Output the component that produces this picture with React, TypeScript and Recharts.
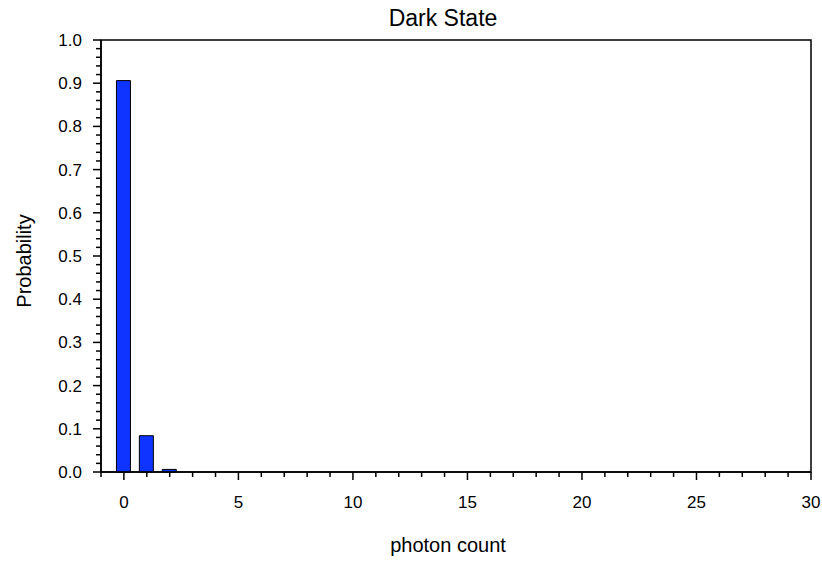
import { Bar, BarChart, ReferenceArea, XAxis, YAxis } from "recharts";

const photonCounts = [0, 1, 2];
const probabilities = [0.906, 0.084, 0.006];

const xMajorTicks = [0, 5, 10, 15, 20, 25, 30];
const yMajorTicks = [0, 0.1, 0.2, 0.3, 0.4, 0.5, 0.6, 0.7, 0.8, 0.9, 1.0];

// minor ticks: every 1 count on x, every 0.02 on y
const xTicks = Array.from({ length: 32 }, (_, i) => i - 1);
const yTicks = Array.from({ length: 51 }, (_, i) => Math.round(i * 2) / 100);

const chartData = photonCounts.map((count, i) => ({ count, probability: probabilities[i] }));

const FONT = "Liberation Sans, Arial, sans-serif";

const isMajorX = (v: number) => xMajorTicks.includes(v);
const isMajorY = (v: number) => yMajorTicks.some((t) => Math.abs(t - v) < 1e-6);

const XTick = ({ x, y, payload }: any) => {
  const v = payload.value;
  const major = isMajorX(v);
  return (
    <g>
      <line x1={x} x2={x} y1={y} y2={y + (major ? 8 : 5)} stroke="#000" strokeWidth={1.5} />
      {major && (
        <text x={x} y={y + 36} textAnchor="middle" fontSize={17} fontFamily={FONT} fill="#000">
          {v}
        </text>
      )}
    </g>
  );
};

const YTick = ({ x, y, payload }: any) => {
  const v = payload.value;
  const major = isMajorY(v);
  return (
    <g>
      <line x1={x - (major ? 8 : 5)} x2={x} y1={y} y2={y} stroke="#000" strokeWidth={1.5} />
      {major && (
        <text x={x - 19} y={y + 6} textAnchor="end" fontSize={17} fontFamily={FONT} fill="#000">
          {v.toFixed(1)}
        </text>
      )}
    </g>
  );
};

const textStyle = {
  position: "absolute" as const,
  fontFamily: FONT,
  color: "#000",
  textAlign: "center" as const,
  whiteSpace: "nowrap" as const,
};

export default function App() {
  return (
    <div style={{ position: "absolute", left: 0, top: 0, width: 822, height: 561, background: "#fff" }}>
      <BarChart
        width={822}
        height={561}
        data={chartData}
        margin={{ top: 40, right: 11, left: 0, bottom: 59 }}
      >
        <XAxis
          dataKey="count"
          type="number"
          domain={[-1, 30]}
          ticks={xTicks}
          interval={0}
          height={30}
          tickSize={0}
          tickMargin={0}
          tick={<XTick />}
          axisLine={{ stroke: "#000", strokeWidth: 1.5 }}
          allowDataOverflow
        />
        <YAxis
          type="number"
          domain={[0, 1]}
          ticks={yTicks}
          interval={0}
          width={101}
          tickSize={0}
          tickMargin={0}
          tick={<YTick />}
          axisLine={{ stroke: "#000", strokeWidth: 1.5 }}
        />
        <ReferenceArea
          x1={-1}
          x2={30}
          y1={0}
          y2={1}
          fill="none"
          stroke="#000"
          strokeWidth={1.5}
          ifOverflow="visible"
        />
        <Bar
          dataKey="probability"
          fill="#1034FF"
          stroke="#000"
          strokeWidth={1}
          barSize={14}
          isAnimationActive={false}
        />
      </BarChart>
      <div style={{ ...textStyle, left: 243, width: 400, top: 7, fontSize: 23, lineHeight: "23px" }}>
        Dark State
      </div>
      <div style={{ ...textStyle, left: 248, width: 400, top: 535, fontSize: 20, lineHeight: "20px" }}>
        photon count
      </div>
      <div
        style={{
          ...textStyle,
          left: 23.5 - 100,
          width: 200,
          top: 261 - 10,
          fontSize: 20,
          lineHeight: "20px",
          transform: "rotate(-90deg)",
        }}
      >
        Probability
      </div>
    </div>
  );
}
